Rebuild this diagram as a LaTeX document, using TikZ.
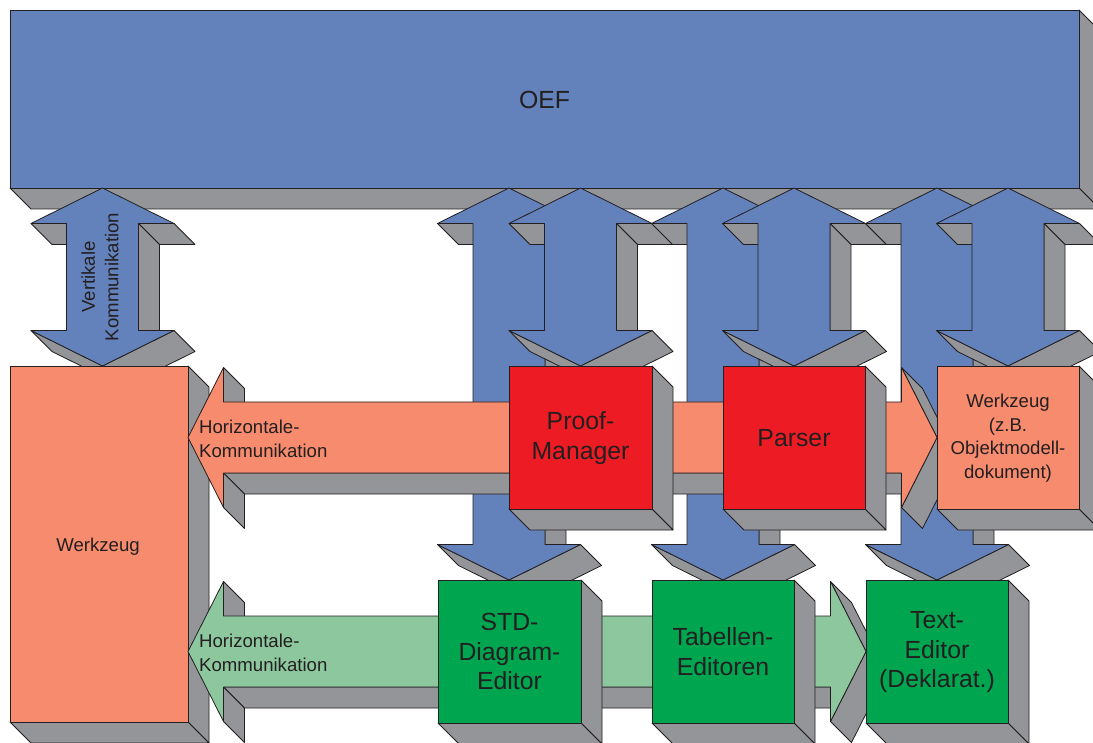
\documentclass[tikz,border=0pt]{standalone}
\usepackage{fontspec}
\setmainfont{Liberation Sans}
\definecolor{blueF}{RGB}{99,129,186}
\definecolor{grayS}{RGB}{147,149,152}
\definecolor{salmonF}{RGB}{246,139,110}
\definecolor{redF}{RGB}{237,28,36}
\definecolor{greenF}{RGB}{0,165,80}
\definecolor{lgreenF}{RGB}{141,199,157}
\definecolor{edgeC}{RGB}{35,31,32}
\definecolor{txtC}{RGB}{35,31,32}
\tikzset{
  sidef/.style={fill=grayS, draw=edgeC, line width=0.8pt, line join=round},
  edgef/.style={draw=edgeC, line width=0.8pt, line join=round},
  bigtxt/.style={font=\fontsize{24.8}{29.5}\selectfont, text=txtC, align=center, inner sep=0pt},
  smalltxt/.style={font=\fontsize{18.6}{23.5}\selectfont, text=txtC, align=center, inner sep=0pt},
  lefttxt/.style={font=\fontsize{18.6}{24}\selectfont, text=txtC, align=left, inner sep=0pt, anchor=west}
}
% 3D box: x1 y1 x2 y2 colour (y downwards), extrusion (21,21)
\newcommand{\mkbox}[5]{%
  \draw[sidef] ({#3},{#2}) -- ({#3+21},{#2+21}) -- ({#3+21},{#4+21}) -- ({#3},{#4}) -- cycle;
  \draw[sidef] ({#1},{#4}) -- ({#3},{#4}) -- ({#3+21},{#4+21}) -- ({#1+21},{#4+21}) -- cycle;
  \draw[edgef, fill=#5] ({#1},{#2}) rectangle ({#3},{#4});
}
% vertical double arrow: centre x, top tip y, bottom tip y
\newcommand{\mkvarrow}[3]{%
  \draw[sidef] ({#1+36},{#2+35.5}) -- ({#1+71.5},{#2+35.5}) -- ({#1+92.5},{#2+56.5}) -- ({#1+57},{#2+56.5}) -- cycle;
  \draw[sidef] ({#1+36},{#2+35.5}) -- ({#1+36},{#3-35.5}) -- ({#1+57},{#3-14.5}) -- ({#1+57},{#2+56.5}) -- cycle;
  \draw[sidef] ({#1-71.5},{#2+35.5}) -- ({#1-36},{#2+35.5}) -- ({#1-15},{#2+56.5}) -- ({#1-50.5},{#2+56.5}) -- cycle;
  \draw[sidef] ({#1+71.5},{#3-35.5}) -- ({#1},{#3}) -- ({#1+21},{#3+21}) -- ({#1+92.5},{#3-14.5}) -- cycle;
  \draw[sidef] ({#1},{#3}) -- ({#1-71.5},{#3-35.5}) -- ({#1-50.5},{#3-14.5}) -- ({#1+21},{#3+21}) -- cycle;
  \draw[edgef, fill=blueF] ({#1},{#2}) -- ({#1+71.5},{#2+35.5}) -- ({#1+36},{#2+35.5}) -- ({#1+36},{#3-35.5}) -- ({#1+71.5},{#3-35.5}) -- ({#1},{#3}) -- ({#1-71.5},{#3-35.5}) -- ({#1-36},{#3-35.5}) -- ({#1-36},{#2+35.5}) -- ({#1-71.5},{#2+35.5}) -- cycle;
}
% horizontal double arrow: left tip x, right tip x, centre y, colour
\newcommand{\mkharrow}[4]{%
  \draw[sidef] ({#1+35.5},{#3-70}) -- ({#1+35.5},{#3-35.5}) -- ({#1+56.5},{#3-14.5}) -- ({#1+56.5},{#3-49}) -- cycle;
  \draw[sidef] ({#2-35.5},{#3+35.5}) -- ({#1+35.5},{#3+35.5}) -- ({#1+56.5},{#3+56.5}) -- ({#2-14.5},{#3+56.5}) -- cycle;
  \draw[sidef] ({#1+35.5},{#3+35.5}) -- ({#1+35.5},{#3+70}) -- ({#1+56.5},{#3+91}) -- ({#1+56.5},{#3+56.5}) -- cycle;
  \draw[sidef] ({#2-35.5},{#3-70}) -- ({#2},{#3}) -- ({#2+21},{#3+21}) -- ({#2-14.5},{#3-49}) -- cycle;
  \draw[sidef] ({#2},{#3}) -- ({#2-35.5},{#3+70}) -- ({#2-14.5},{#3+91}) -- ({#2+21},{#3+21}) -- cycle;
  \draw[edgef, fill=#4] ({#1},{#3}) -- ({#1+35.5},{#3-70}) -- ({#1+35.5},{#3-35.5}) -- ({#2-35.5},{#3-35.5}) -- ({#2-35.5},{#3-70}) -- ({#2},{#3}) -- ({#2-35.5},{#3+70}) -- ({#2-35.5},{#3+35.5}) -- ({#1+35.5},{#3+35.5}) -- ({#1+35.5},{#3+70}) -- cycle;
}
\begin{document}
\begin{tikzpicture}[x=1pt,y=-1pt]
\useasboundingbox (0,0) rectangle (1093,743);
\clip (0,0) rectangle (1093,743);
\fill[white] (0,0) rectangle (1093,743);
% OEF
\mkbox{10}{10}{1079}{188}{blueF}
% vertical arrows
\mkvarrow{509}{188}{580}
\mkvarrow{580.5}{188}{366}
\mkvarrow{723}{188}{580}
\mkvarrow{794}{188}{366}
\mkvarrow{937}{188}{580}
\mkvarrow{1008}{188}{366}
\mkvarrow{102.5}{188}{366}
% left tool
\mkbox{10}{366}{188}{722}{salmonF}
% horizontal arrows
\mkharrow{188}{937}{437.5}{salmonF}
\mkharrow{188}{866}{651.5}{lgreenF}
% boxes
\mkbox{509}{366}{652}{509}{redF}
\mkbox{723}{366}{865}{509}{redF}
\mkbox{937}{366}{1079}{509}{salmonF}
\mkbox{438}{580}{581}{723}{greenF}
\mkbox{652}{580}{794}{723}{greenF}
\mkbox{866}{580}{1008}{723}{greenF}
% texts
\node[bigtxt] (oef) at (544.5,100) {OEF};
\node[smalltxt, rotate=90] (vk) at (100,277) {Vertikale\\Kommunikation};
\node[smalltxt] (wl) at (98,547) {Werkzeug};
\node[lefttxt] (hko) at (199,439) {Horizontale-\\Kommunikation};
\node[lefttxt] (hkg) at (199,653) {Horizontale-\\Kommunikation};
\node[bigtxt] (pm) at (580.5,438) {Proof-\\Manager};
\node[bigtxt] (parser) at (794,438) {Parser};
\node[smalltxt] (wr) at (1008,438) {Werkzeug\\(z.B.\\Objektmodell-\\dokument)};
\node[bigtxt] (std) at (509.5,651.5) {STD-\\Diagram-\\Editor};
\node[bigtxt] (tab) at (723,651.5) {Tabellen-\\Editoren};
\node[bigtxt] (ted) at (937,652.5) {Text-\\Editor\\(Deklarat.)};
\end{tikzpicture}
\end{document}
